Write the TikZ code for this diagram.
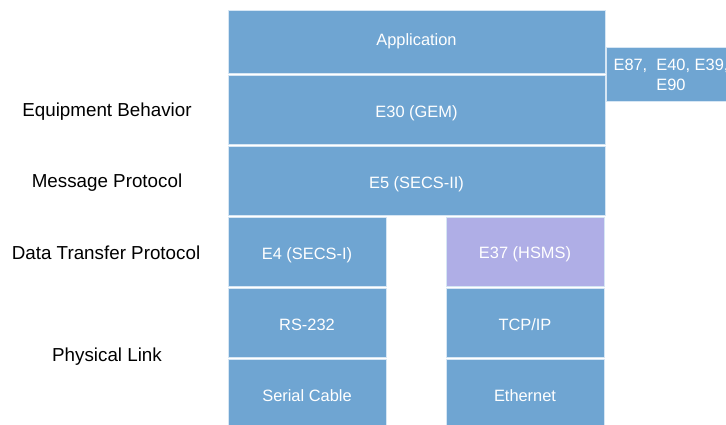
\documentclass[tikz,border=0pt]{standalone}
\usepackage{fontspec}
\setmainfont{Liberation Sans}
\definecolor{layerblue}{RGB}{111,165,210}
\definecolor{layerviolet}{RGB}{175,174,230}
\definecolor{layeredge}{RGB}{214,230,244}
\begin{document}
\begin{tikzpicture}[x=1pt,y=-1pt,
  layer/.style={rectangle, fill=layerblue, draw=layeredge, line width=0.8pt,
    inner sep=0pt, outer sep=0pt, anchor=north west, text=white,
    font=\fontsize{16.4}{19.7}\selectfont, align=center,
    text height=15.7pt, text depth=0pt},
  wide/.style={layer, minimum width=377pt},
  narrow/.style={layer, minimum width=158pt},
  tier/.style={minimum height=69pt},
  levelname/.style={text=black, font=\fontsize{18.8}{22}\selectfont, anchor=center,
    text height=13.46pt, text depth=0pt}]
  \useasboundingbox (0,0) rectangle (726,425);
  \clip (0,0) rectangle (726,425);

  % common upper layers
  \node[wide, minimum height=63pt, text height=8.3pt] (app) at (228,10) {Application};
  \node[wide, tier] (gem) at (228,75) {E30 (GEM)};
  \node[wide, tier] (secsii) at (228,146) {E5 (SECS-II)};

  % serial branch
  \node[narrow, tier] (secsi) at (228,217) {E4 (SECS-I)};
  \node[narrow, tier] (rs) at (228,288) {RS-232};
  \node[narrow, tier] (serial) at (228,359) {Serial Cable};

  % network branch
  \node[narrow, tier, fill=layerviolet, text height=13.1pt] (hsms) at (446,217) {E37 (HSMS)};
  \node[narrow, tier] (tcp) at (446,288) {TCP/IP};
  \node[narrow, tier] (eth) at (446,359) {Ethernet};

  % related equipment standards
  \node[layer, minimum width=130pt, minimum height=54pt, text height=33.4pt] (ext) at (606,47)
    {E87,\ \ E40, E39,\\E90};

  % level names
  \node[levelname] (lb) at (107,109.3) {Equipment Behavior};
  \node[levelname] (lm) at (107,181) {Message Protocol};
  \node[levelname] (ld) at (106,252.8) {Data Transfer Protocol};
  \node[levelname] (lp) at (107,355) {Physical Link};
\end{tikzpicture}
\end{document}
